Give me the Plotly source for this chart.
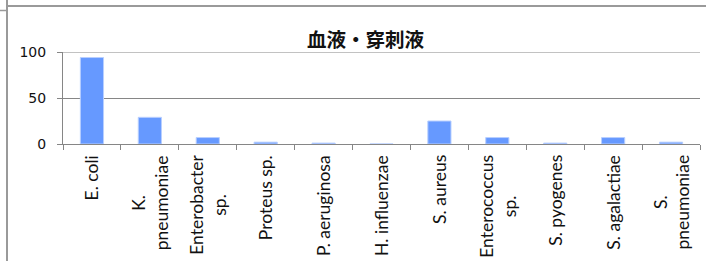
import plotly.graph_objects as go

categories = ["E. coli", "K. pneumoniae", "Enterobacter sp.", "Proteus sp.", "P. aeruginosa",
              "H. influenzae", "S. aureus", "Enterococcus sp.", "S. pyogenes", "S. agalactiae",
              "S. pneumoniae"]
tick_labels = ["E. coli", "K.<br>pneumoniae", "Enterobacter<br>sp.", "Proteus sp.", "P. aeruginosa",
               "H. influenzae", "S. aureus", "Enterococcus<br>sp.", "S. pyogenes", "S. agalactiae",
               "S.<br>pneumoniae"]
values = [94, 29, 7, 2, 1, 0, 25, 7, 1, 7, 2]
title_text = "血液・穿刺液"
y_ticks = [0, 50, 100]

W, H = 706, 261
L, R, T, B = 63, 6, 52, 117
pw, ph = W - L - R, H - T - B

def px2fx(px):
    return (px - L) / pw

def py2fy(py):
    return (H - B - py) / ph

grid = "#868686"

fig = go.Figure()
fig.add_trace(go.Bar(
    x=categories, y=values,
    marker=dict(color="#6699ff", line=dict(color="#b8cfff", width=1)),
    width=0.4,
))

annotations = []
for c, lab in zip(categories, tick_labels):
    annotations.append(dict(
        x=c, xref="x", y=0, yref="paper", yanchor="top", xanchor="center",
        yshift=-9, text=lab, textangle=-90, showarrow=False, align="center",
        font=dict(family="Lato, Liberation Sans, sans-serif", size=17.5, color="#111"),
    ))
annotations.append(dict(
    x=px2fx(366), xref="paper", y=py2fy(38), yref="paper", xanchor="center", yanchor="middle",
    text="<b>" + title_text + "</b>", showarrow=False,
    font=dict(family="Noto Sans CJK JP", size=19.5, color="#111"),
))

shapes = [
    # gridline at the top of the value range (Plotly clips gridlines at the range ends)
    dict(type="line", xref="paper", yref="y", x0=0, x1=1, y0=y_ticks[-1], y1=y_ticks[-1],
         line=dict(color=grid, width=1), layer="below"),
    dict(type="line", xref="paper", yref="paper", x0=px2fx(7), x1=px2fx(706), y0=py2fy(6), y1=py2fy(6),
         line=dict(color="#9a9a9a", width=2)),
    dict(type="line", xref="paper", yref="paper", x0=px2fx(7), x1=px2fx(7), y0=py2fy(0), y1=py2fy(261),
         line=dict(color="#9a9a9a", width=2)),
    dict(type="line", xref="paper", yref="paper", x0=px2fx(0), x1=px2fx(7), y0=py2fy(10.5), y1=py2fy(10.5),
         line=dict(color="#9a9a9a", width=1.5)),
]

fig.update_layout(
    width=W, height=H,
    margin=dict(l=L, r=R, t=T, b=B, pad=0),
    paper_bgcolor="white", plot_bgcolor="white",
    showlegend=False,
    annotations=annotations,
    shapes=shapes,
    xaxis=dict(type="category", tickson="boundaries", ticks="outside", ticklen=5, tickcolor=grid,
               showline=True, linecolor=grid, linewidth=1, showticklabels=False, showgrid=False,
               zeroline=False),
    yaxis=dict(range=[0, 100], tickvals=y_ticks, ticks="outside", ticklen=5, tickcolor=grid,
               showline=True, linecolor=grid, linewidth=1, showgrid=True, gridcolor=grid,
               gridwidth=1, zeroline=False, ticklabelstandoff=8,
               tickfont=dict(family="DejaVu Sans", size=14, color="#111")),
)

fig.write_html("out.html", config={"displayModeBar": False},
               post_script="document.body.style.margin='0';document.body.style.overflow='hidden';")
